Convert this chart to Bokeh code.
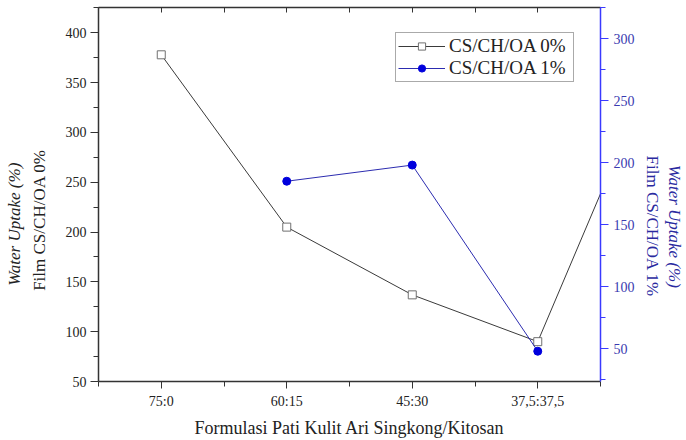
from bokeh.plotting import figure
from bokeh.models import Range1d, LinearAxis, FixedTicker, Legend, LegendItem
from bokeh.embed import file_html
from bokeh.resources import INLINE

# ---- data ----
categories = ["75:0", "60:15", "45:30", "37,5:37,5"]
cat_pos = [1, 2, 3, 4]
minor_pos = [0.5, 1.5, 2.5, 3.5, 4.5]
# CS/CH/OA 0% (left axis); the last point lies beyond the visible x range
cs0_x = [1, 2, 3, 4, 5]
cs0_y = [378, 205, 137, 90, 387]
# CS/CH/OA 1% (right axis)
cs1_x = [2, 3, 4]
cs1_y = [185, 198, 48]
left_ticks = [50, 100, 150, 200, 250, 300, 350, 400]
left_minor = [75, 125, 175, 225, 275, 325, 375, 425]
right_ticks = [50, 100, 150, 200, 250, 300]
right_minor = [25, 75, 125, 175, 225, 275, 325]

FONT = "Liberation Serif"
BLUE_AX = "#3a3aff"
BLUE_TXT = "#2a2aa0"
BLUE_PT = "#0000dd"
BLUE_LN = "#2c2cb0"
DARK = "#333333"
TXT = "#222222"
NB = "\u00a0"  # non-breaking spaces shift the axis titles off-centre like the reference

p = figure(width=686, height=440, x_range=Range1d(0.5, 4.5), y_range=Range1d(50, 425.5),
           output_backend="svg", toolbar_location=None,
           min_border_left=98, min_border_right=85, min_border_bottom=59, min_border_top=7)
p.extra_y_ranges = {"right": Range1d(23.6, 325)}
p.grid.visible = False
p.outline_line_color = None
p.background_fill_color = "white"
p.border_fill_color = "white"

# bottom axis
xa = p.xaxis[0]
xa.ticker = FixedTicker(ticks=cat_pos, minor_ticks=minor_pos)
xa.major_label_overrides = {pos: lab for pos, lab in zip(cat_pos, categories)}
xa.axis_label = "Formulasi Pati Kulit Ari Singkong/Kitosan"
xa.axis_label_text_font = FONT
xa.axis_label_text_font_size = "18px"
xa.axis_label_text_font_style = "normal"
xa.axis_label_text_color = TXT
xa.axis_label_standoff = 6
xa.major_label_text_font = FONT
xa.major_label_text_font_size = "14px"
xa.major_label_text_color = TXT
xa.major_label_standoff = 5
xa.axis_line_width = 1.5
xa.axis_line_color = DARK
xa.major_tick_line_color = DARK
xa.minor_tick_line_color = DARK
xa.major_tick_in = 0
xa.major_tick_out = 7
xa.minor_tick_in = 0
xa.minor_tick_out = 5

# left axis
ya = p.yaxis[0]
ya.ticker = FixedTicker(ticks=left_ticks, minor_ticks=left_minor)
ya.axis_label = "Film CS/CH/OA 0%" + NB * 12
ya.axis_label_text_font = FONT
ya.axis_label_text_font_size = "17px"
ya.axis_label_text_font_style = "normal"
ya.axis_label_text_color = TXT
ya.axis_label_standoff = 14
ya.major_label_text_font = FONT
ya.major_label_text_font_size = "14px"
ya.major_label_text_color = TXT
ya.major_label_standoff = 4
ya.axis_line_width = 1.5
ya.axis_line_color = DARK
ya.major_tick_line_color = DARK
ya.minor_tick_line_color = DARK
ya.major_tick_in = 0
ya.major_tick_out = 8
ya.minor_tick_in = 0
ya.minor_tick_out = 5

# outer left title line
ya2 = LinearAxis(ticker=FixedTicker(ticks=[]), axis_line_color=None,
                 major_tick_line_color=None, minor_tick_line_color=None,
                 major_tick_out=0, minor_tick_out=0, major_label_standoff=0,
                 axis_label="Water Uptake (%)" + NB * 14, axis_label_text_font=FONT,
                 axis_label_text_font_size="17px", axis_label_text_font_style="italic",
                 axis_label_text_color=TXT, axis_label_standoff=3)
p.add_layout(ya2, "left")

# right axis
yr = LinearAxis(y_range_name="right",
                ticker=FixedTicker(ticks=right_ticks, minor_ticks=right_minor),
                axis_label=NB * 15 + "Film CS/CH/OA 1%", axis_label_text_font=FONT,
                axis_label_text_font_size="17px", axis_label_text_font_style="normal",
                axis_label_text_color=BLUE_TXT, axis_label_standoff=5,
                major_label_text_font=FONT, major_label_text_font_size="14px",
                major_label_text_color="#3a3ab0", major_label_standoff=5,
                axis_line_color=BLUE_AX, axis_line_width=1.5,
                major_tick_line_color=BLUE_AX, minor_tick_line_color=BLUE_AX,
                major_tick_in=0, major_tick_out=8, minor_tick_in=0, minor_tick_out=5)
p.add_layout(yr, "right")

yr2 = LinearAxis(y_range_name="right", ticker=FixedTicker(ticks=[]), axis_line_color=None,
                 major_tick_line_color=None, minor_tick_line_color=None,
                 major_tick_out=0, minor_tick_out=0, major_label_standoff=0,
                 axis_label=NB * 15 + "Water Uptake (%)", axis_label_text_font=FONT,
                 axis_label_text_font_size="17px", axis_label_text_font_style="italic",
                 axis_label_text_color=BLUE_TXT, axis_label_standoff=0)
p.add_layout(yr2, "right")

# top axis (border with inward ticks, no labels)
xt = LinearAxis(ticker=FixedTicker(ticks=[], minor_ticks=cat_pos + minor_pos),
                axis_line_width=1.5, axis_line_color=DARK,
                minor_tick_line_color=DARK, minor_tick_in=5, minor_tick_out=0,
                major_tick_in=0, major_tick_out=0, major_label_standoff=0)
p.add_layout(xt, "above")

# series
l0 = p.line(cs0_x, cs0_y, line_color="#3a3a3a", line_width=1)
s0 = p.scatter(cs0_x, cs0_y, marker="square", size=8, fill_color="white",
               line_color="#707070", line_width=1)
l1 = p.line(cs1_x, cs1_y, line_color=BLUE_LN, line_width=1, y_range_name="right")
s1 = p.scatter(cs1_x, cs1_y, marker="circle", size=8, fill_color=BLUE_PT,
               line_color=BLUE_PT, y_range_name="right")

legend = Legend(items=[LegendItem(label="CS/CH/OA 0%", renderers=[l0, s0]),
                       LegendItem(label="CS/CH/OA 1%", renderers=[l1, s1])],
                location=(297, 299), label_text_font=FONT, label_text_font_size="19px",
                label_text_color=TXT, border_line_color="#555555", border_line_width=1,
                background_fill_color="white", background_fill_alpha=1,
                glyph_width=47, glyph_height=18, label_standoff=4, label_width=122,
                padding=2, spacing=0, margin=0)
p.add_layout(legend)

open("out.html", "w").write(file_html(p, INLINE))
